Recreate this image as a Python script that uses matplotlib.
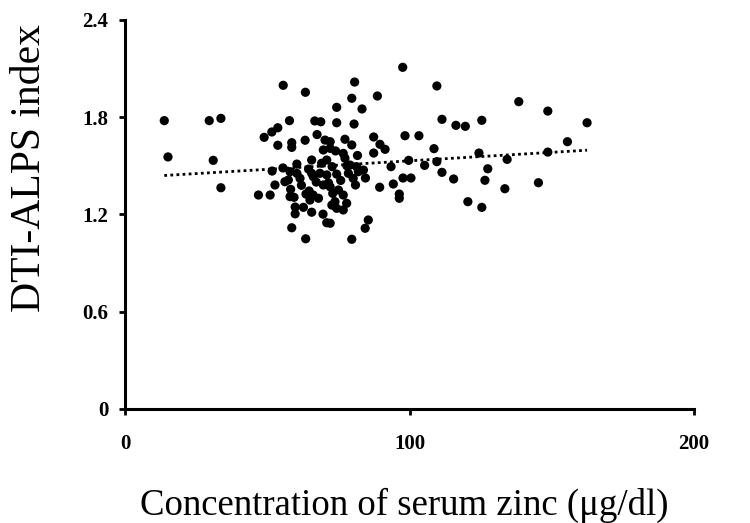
import numpy as np
import matplotlib.pyplot as plt

# serum zinc (ug/dl) and DTI-ALPS index
zinc = [13.8, 15.1, 29.6, 33.7, 31.0, 33.7, 46.9, 51.0, 48.9, 51.6,
        53.7, 53.7, 51.7, 52.7, 55.6, 57.8, 58.6, 58.6, 55.5, 56.2,
        58.0, 58.6, 59.8, 59.8, 63.4, 66.7, 68.8, 74.4, 80.5, 67.5,
        63.3, 70.3, 72.1, 77.3, 79.7, 74.4, 83.3, 80.7, 79.7, 88.7,
        97.6, 87.4, 89.6, 91.4, 87.4, 81.7, 93.5, 84.5, 89.5, 94.3,
        96.4, 96.4, 85.5, 84.4, 79.7, 63.5, 69.6, 70.9, 65.6, 69.7,
        72.1, 74.0, 76.7, 77.3, 65.6, 60.4, 69.1, 70.9, 72.8, 58.0,
        60.4, 65.6, 68.5, 70.9, 74.4, 79.1, 81.4, 83.8, 78.5, 82.0,
        80.2, 81.0, 57.4, 61.5, 66.2, 58.2, 59.4, 63.6, 64.7, 66.1,
        65.0, 62.7, 69.7, 72.1, 75.0, 72.7, 73.8, 76.7, 77.9, 76.7,
        74.4, 72.1, 109.6, 138.4, 148.6, 162.4, 111.4, 116.3, 119.6, 125.4,
        98.4, 103.3, 108.6, 155.5, 99.7, 109.6, 105.3, 124.4, 134.3, 148.6,
        127.5, 111.4, 97.7, 100.5, 115.5, 126.5, 133.5, 145.3, 120.5, 125.4,
        67.2, 71.5, 62.0, 75.8, 68.0, 73.0, 64.5, 78.0]
alps = [1.779, 1.555, 1.779, 1.793, 1.534, 1.365, 1.320, 1.320, 1.676, 1.709,
        1.735, 1.627, 1.468, 1.382, 1.997, 1.779, 1.643, 1.614, 1.487, 1.402,
        1.310, 1.118, 1.204, 1.246, 1.954, 1.777, 1.772, 1.766, 1.758, 1.693,
        1.658, 1.659, 1.649, 1.664, 1.629, 1.861, 1.851, 2.017, 1.917, 1.931,
        2.108, 1.678, 1.633, 1.602, 1.579, 1.564, 1.495, 1.425, 1.368, 1.388,
        1.326, 1.300, 1.166, 1.115, 1.047, 1.050, 1.202, 1.149, 1.214, 1.598,
        1.608, 1.592, 1.577, 1.547, 1.536, 1.511, 1.516, 1.536, 1.495, 1.464,
        1.454, 1.454, 1.454, 1.444, 1.449, 1.505, 1.495, 1.474, 1.454, 1.464,
        1.423, 1.382, 1.413, 1.423, 1.433, 1.355, 1.306, 1.326, 1.345, 1.320,
        1.289, 1.244, 1.382, 1.371, 1.351, 1.258, 1.279, 1.320, 1.269, 1.228,
        1.238, 1.146, 1.993, 1.896, 1.838, 1.766, 1.787, 1.750, 1.744, 1.781,
        1.686, 1.686, 1.606, 1.649, 1.534, 1.526, 1.503, 1.579, 1.540, 1.585,
        1.482, 1.460, 1.425, 1.425, 1.419, 1.411, 1.359, 1.396, 1.279, 1.244,
        1.400, 1.395, 1.380, 1.410, 1.300, 1.330, 1.480, 1.500]

# linear trendline as drawn in the figure
trend_a = 1.426
trend_b = 0.00105

x_ticks = [0, 100, 200]
y_ticks = [0, 0.6, 1.2, 1.8, 2.4]
y_tick_labels = ['0', '0.6', '1.2', '1.8', '2.4']

plt.rcParams['font.family'] = ['Liberation Serif', 'DejaVu Serif']

fig = plt.figure(figsize=(7.5, 5.23), dpi=100)
ax = fig.add_axes([0.1667, 0.218, 0.7587, 0.7438])

ax.scatter(zinc, alps, s=44, color='black', edgecolors='none', zorder=3)

xs = np.array([min(zinc), max(zinc)])
ax.plot(xs, trend_a + trend_b * xs, color='black', linestyle=(0, (1, 1.2)),
        linewidth=2, zorder=2)

ax.set_xlim(0, 200)
ax.set_ylim(0, 2.4)
ax.set_xticks(x_ticks)
ax.set_yticks(y_ticks)
ax.set_yticklabels(y_tick_labels)
for lab in ax.get_xticklabels() + ax.get_yticklabels():
    lab.set_fontweight('bold')
    lab.set_fontsize(15)

ax.spines['top'].set_visible(False)
ax.spines['right'].set_visible(False)
ax.spines['left'].set_linewidth(2.2)
ax.spines['bottom'].set_linewidth(2.2)
ax.tick_params(axis='both', direction='out', length=4, width=2)
ax.tick_params(axis='x', pad=14)
ax.tick_params(axis='y', pad=8)

ax.set_xlabel('Concentration of serum zinc (\u03bcg/dl)', fontsize=26.5,
              labelpad=24, x=0.49)
ax.set_ylabel('DTI-ALPS index', fontsize=30, labelpad=24, y=0.62)

fig.savefig('out.png', dpi=100)
